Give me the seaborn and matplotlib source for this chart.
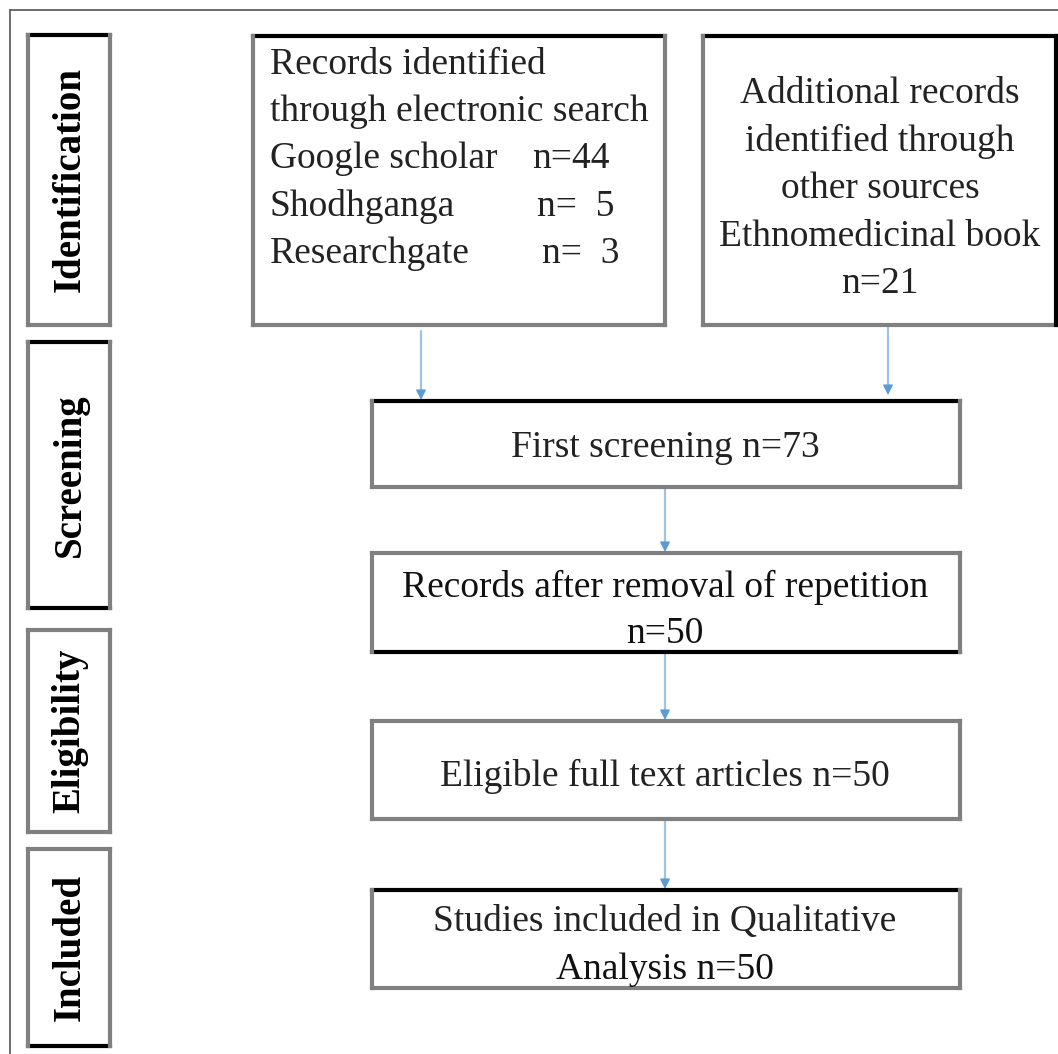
import matplotlib
matplotlib.use("Agg")
import matplotlib.pyplot as plt
import seaborn as sns

# PRISMA stages and counts
stages = ["Identification", "Screening", "Eligibility", "Included"]
sources = ["Google scholar", "Shodhganga", "Researchgate"]
source_n = [44, 5, 3]
other_source = "Ethnomedicinal book"
other_n = 21
n_screened = 73
n_dedup = 50
n_eligible = 50
n_included = 50

sns.set_theme(style="white")
plt.rcParams["font.family"] = ["Liberation Serif", "DejaVu Serif"]

GRAY = "#808080"
BLACK = "#000000"
ARROW = "#9DC3E6"
HEAD = "#5B9BD5"
FS = 27
DY = 4  # centre text sits a bit high because of descenders


def box(ax, x0, y0, x1, y1, black=()):
    # draw each side so some edges can be black like the source image
    sides = {
        "top": ([x0, x1], [y0, y0]),
        "bottom": ([x0, x1], [y1, y1]),
        "left": ([x0, x0], [y0, y1]),
        "right": ([x1, x1], [y0, y1]),
    }
    for name, (xs, ys) in sides.items():
        ax.plot(xs, ys, color=BLACK if name in black else GRAY, lw=3,
                solid_capstyle="projecting", zorder=2)


def ctext(ax, x, y, s, color="#222222"):
    ax.text(x, y + DY, s, ha="center", va="center", fontsize=FS, color=color)


def arrow(ax, x, y0, y1):
    ax.plot([x, x], [y0, y1 - 7], color=ARROW, lw=1.6, zorder=1)
    ax.annotate("", xy=(x, y1), xytext=(x, y1 - 9),
                arrowprops=dict(arrowstyle="-|>", color=HEAD, lw=1,
                                mutation_scale=15, shrinkA=0, shrinkB=0))


fig = plt.figure(figsize=(10.58, 10.54), dpi=100)
ax = fig.add_axes([0, 0, 1, 1])
ax.set_xlim(0, 1058)
ax.set_ylim(1054, 0)
ax.axis("off")

# outer frame (top and left edges visible)
ax.plot([10, 1058], [10, 10], color="#555555", lw=1.2)
ax.plot([10, 10], [10, 1054], color="#555555", lw=1.2)

# stage boxes on the left
stage_boxes = [(35, 325, ("top",)), (342, 608, ("top", "bottom")),
               (630, 832, ()), (849, 1046, ("bottom",))]
for label, (y0, y1, blk) in zip(stages, stage_boxes):
    box(ax, 28, y0, 110, y1, black=blk)
    ax.text(70, (y0 + y1) / 2, label, rotation=90, ha="center", va="center",
            fontsize=28, fontweight="bold", color="black")

# identification boxes
box(ax, 253, 36, 665, 325, black=("top",))
ax.text(270, 74, "Records identified", fontsize=FS, color="#222222")
ax.text(270, 121, "through electronic search", fontsize=FS, color="#222222")
count_x = [532, 537, 542]
for i, (src, n) in enumerate(zip(sources, source_n)):
    yb = 168 + i * 47.5
    ax.text(270, yb, src, fontsize=FS, color="#222222")
    ax.text(count_x[i], yb, f"n={n}" if n >= 10 else f"n=  {n}",
            fontsize=FS, color="#222222")

box(ax, 703, 36, 1056, 325, black=("top", "right"))
right_lines = ["Additional records", "identified through", "other sources",
               other_source, f"n={other_n}"]
for i, line in enumerate(right_lines):
    ctext(ax, 880, 90 + i * 47.5, line)

# flow boxes
box(ax, 372, 401, 960, 487, black=("top",))
ctext(ax, 665, 444, f"First screening n={n_screened}")

box(ax, 372, 553, 960, 652, black=("bottom",))
ctext(ax, 665, 583, "Records after removal of repetition", "#111111")
ctext(ax, 665, 630, f"n={n_dedup}", "#111111")

box(ax, 372, 721, 960, 819)
ctext(ax, 665, 772, f"Eligible full text articles n={n_eligible}")

box(ax, 372, 890, 960, 988, black=("top",))
ctext(ax, 665, 918, "Studies included in Qualitative")
ctext(ax, 665, 966, f"Analysis n={n_included}", "#111111")

# arrows
arrow(ax, 421, 331, 400)
arrow(ax, 888, 327, 395)
arrow(ax, 665, 488, 552)
arrow(ax, 665, 653, 720)
arrow(ax, 665, 820, 889)

fig.savefig("out.png", dpi=100, facecolor="white")
